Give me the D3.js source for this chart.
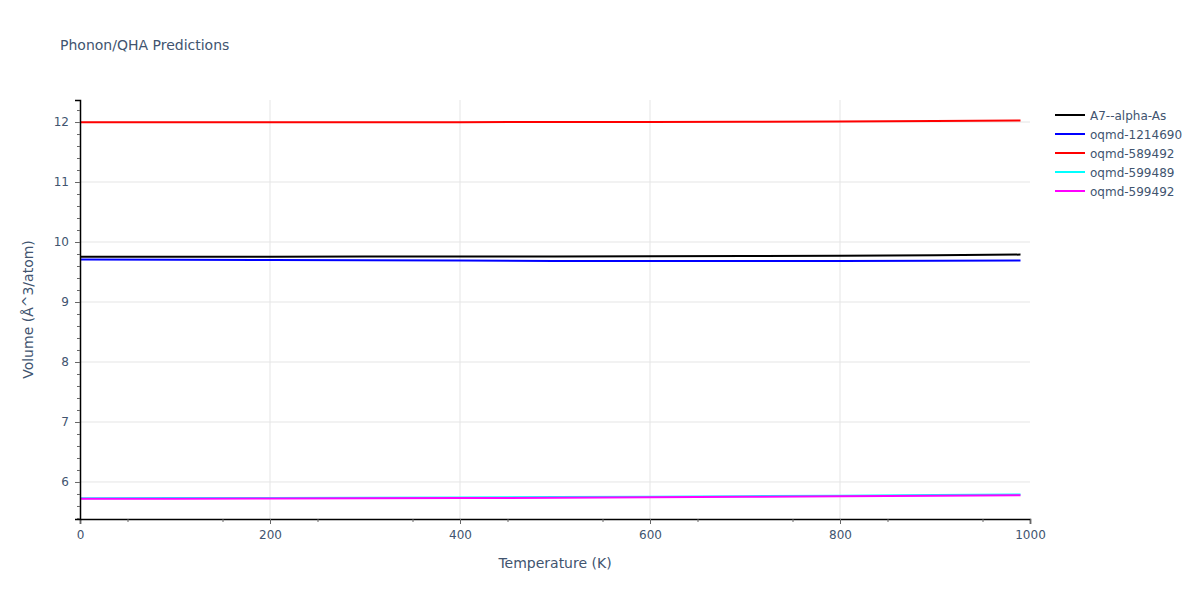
<!DOCTYPE html>
<html>
<head>
<meta charset="utf-8">
<script src="https://cdn.jsdelivr.net/npm/d3@7"></script>
<style>
  body { margin: 0; background: #fff; }
  text { font-family: "DejaVu Sans", Verdana, sans-serif; fill: #41546f; }
</style>
</head>
<body>
<div id="chart"></div>
<script>
// temperatures (K) and volumes
const temps = [0, 100, 200, 300, 400, 500, 600, 700, 800, 900, 990];
const seriesNames = ["A7--alpha-As", "oqmd-1214690", "oqmd-589492", "oqmd-599489", "oqmd-599492"];
const seriesColors = ["black", "blue", "red", "cyan", "magenta"];
const volA7 = [9.755, 9.755, 9.756, 9.757, 9.758, 9.759, 9.762, 9.766, 9.772, 9.78, 9.79];
const vol1214690 = [9.71, 9.705, 9.70, 9.695, 9.69, 9.685, 9.683, 9.683, 9.685, 9.688, 9.692];
const vol589492 = [11.995, 11.995, 11.996, 11.997, 11.998, 12.0, 12.002, 12.005, 12.01, 12.017, 12.025];
const vol599489 = [5.73, 5.732, 5.735, 5.738, 5.742, 5.748, 5.755, 5.763, 5.772, 5.782, 5.792];
const vol599492 = [5.72, 5.722, 5.725, 5.728, 5.732, 5.737, 5.744, 5.752, 5.761, 5.77, 5.78];
const allVols = [volA7, vol1214690, vol589492, vol599489, vol599492];
const xTicks = [0, 200, 400, 600, 800, 1000];
const yTicks = [6, 7, 8, 9, 10, 11, 12];

const W = 1200, H = 600;
const m = {left: 80, right: 170, top: 100, bottom: 81};

const svg = d3.select("#chart").append("svg")
  .attr("width", W).attr("height", H);

const x = d3.scaleLinear().domain([0, 1000]).range([m.left, W - m.right]);
const y = d3.scaleLinear().domain([5.383, 12.367]).range([H - m.bottom, m.top]);

// grid
svg.append("g").selectAll("line").data(xTicks.slice(1, -1)).enter().append("line")
  .attr("x1", d => x(d)).attr("x2", d => x(d))
  .attr("y1", m.top).attr("y2", H - m.bottom)
  .attr("stroke", "#e5e5e5").attr("stroke-width", 1);
svg.append("g").selectAll("line").data(yTicks).enter().append("line")
  .attr("x1", m.left).attr("x2", W - m.right)
  .attr("y1", d => y(d)).attr("y2", d => y(d))
  .attr("stroke", "#e5e5e5").attr("stroke-width", 1);

// lines
const line = d3.line().x((d, i) => x(temps[i])).y(d => y(d));
allVols.forEach((vals, k) => {
  svg.append("path")
    .datum(vals)
    .attr("d", line)
    .attr("fill", "none")
    .attr("stroke", seriesColors[k])
    .attr("stroke-width", 2);
});

// axes
svg.append("g").attr("transform", `translate(0,${H - m.bottom})`)
  .call(d3.axisBottom(x).tickValues(xTicks).tickSize(5).tickPadding(6).tickFormat(d3.format("d")));
svg.append("g").attr("transform", `translate(${m.left},0)`)
  .call(d3.axisLeft(y).tickValues(yTicks).tickSize(5).tickPadding(6).tickFormat(d3.format("d")));
// minor ticks
svg.append("g").attr("transform", `translate(0,${H - m.bottom})`)
  .call(d3.axisBottom(x).tickValues(d3.range(50, 1000, 100)).tickSize(3).tickFormat(""))
  .call(g => g.select(".domain").remove());
svg.append("g").attr("transform", `translate(${m.left},0)`)
  .call(d3.axisLeft(y).tickValues(d3.range(5.4, 12.35, 0.2).filter(v => Math.abs(v - Math.round(v)) > 0.01)).tickSize(3).tickFormat(""))
  .call(g => g.select(".domain").remove());

svg.selectAll(".domain").attr("stroke", "#000").attr("stroke-width", 1.5);
svg.selectAll(".tick line").attr("stroke", "#666");
svg.selectAll(".tick text").style("font-size", "12px").attr("fill", "#41546f")
  .style("font-family", "\"DejaVu Sans\", Verdana, sans-serif");

// titles
svg.append("text").attr("x", 60).attr("y", 50)
  .style("font-size", "14px").text("Phonon/QHA Predictions");
svg.append("text").attr("x", (m.left + W - m.right) / 2).attr("y", 568)
  .attr("text-anchor", "middle").style("font-size", "14px").text("Temperature (K)");
svg.append("text")
  .attr("transform", `translate(33,${(m.top + H - m.bottom) / 2}) rotate(-90)`)
  .attr("text-anchor", "middle").style("font-size", "14px").text("Volume (Å^3/atom)");

// legend
const leg = svg.append("g").attr("transform", "translate(1055,115)");
seriesNames.forEach((name, i) => {
  const g = leg.append("g").attr("transform", `translate(0,${i * 19})`);
  g.append("line").attr("x1", 0).attr("x2", 30).attr("y1", 0).attr("y2", 0)
    .attr("stroke", seriesColors[i]).attr("stroke-width", 2);
  g.append("text").attr("x", 35).attr("y", 4.5).style("font-size", "12px").text(name);
});
</script>
</body>
</html>
